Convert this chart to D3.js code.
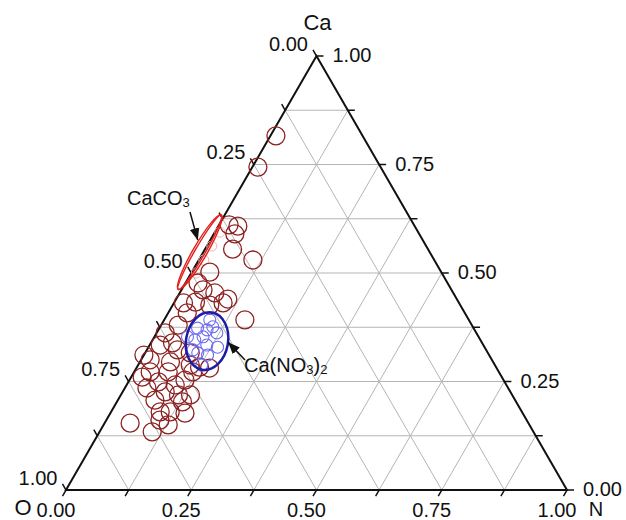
<!DOCTYPE html>
<html>
<head>
<meta charset="utf-8">
<script src="https://cdn.jsdelivr.net/npm/d3@7"></script>
<style>
  body { margin: 0; background: #fff; }
  text { font-family: "Liberation Sans", Arial, sans-serif; fill: #111; }
</style>
</head>
<body>
<div id="chart"></div>
<script>
// ternary data: N and Ca fractions, O = 1 - N - Ca
var sampleN  = [0.011, 0.011, 0.020, 0.039, 0.042, 0.055, 0.108, 0.036, 0.043, 0.070, 0.103, 0.042, 0.074, 0.098,
                0.161, 0.038, 0.034, 0.017, 0.043, 0.061, 0.090, 0.000, 0.061, 0.125, 0.032, 0.068, 0.022, 0.117,
                0.111, 0.097, 0.060, 0.044, 0.085, 0.139, 0.131, 0.098, 0.118, 0.149, 0.051, 0.105, 0.129, 0.074,
                0.021, 0.019, 0.025, 0.104, 0.146, 0.107, 0.115, 0.018];
var sampleCa = [0.816, 0.744, 0.611, 0.608, 0.590, 0.555, 0.530, 0.502, 0.461, 0.454, 0.440, 0.433, 0.426, 0.431,
                0.392, 0.408, 0.380, 0.362, 0.339, 0.323, 0.316, 0.311, 0.295, 0.283, 0.272, 0.272, 0.260, 0.272,
                0.253, 0.242, 0.249, 0.235, 0.226, 0.219, 0.203, 0.180, 0.180, 0.177, 0.154, 0.134, 0.150, 0.207,
                0.334, 0.431, 0.477, 0.288, 0.281, 0.161, 0.219, 0.300];

var nitrateN  = [0.076, 0.097, 0.097, 0.084, 0.120, 0.138, 0.114, 0.105, 0.127, 0.092, 0.105, 0.066, 0.127, 0.091];
var nitrateCa = [0.373, 0.369, 0.353, 0.346, 0.362, 0.329, 0.334, 0.316, 0.311, 0.323, 0.376, 0.353, 0.288, 0.392];

var carbonateN  = [0.010, 0.010, 0.010, 0.010];
var carbonateCa = [0.594, 0.562, 0.530, 0.500];

var tickValues = [0, 0.125, 0.25, 0.375, 0.5, 0.625, 0.75, 0.875, 1];
var labelValues = [0, 0.25, 0.5, 0.75, 1];

var width = 626, height = 520;

var svg = d3.select("#chart")
  .append("svg")
    .attr("width", width)
    .attr("height", height);

// x follows N + Ca/2, y follows Ca
var x = d3.scaleLinear().domain([0, 1]).range([66, 567]);
var y = d3.scaleLinear().domain([0, 1]).range([490, 56]);

function pt(n, ca) { return [x(n + ca / 2), y(ca)]; }
var fmt = d3.format(".2f");

// grid
var grid = svg.append("g").attr("stroke", "#b5b5b5").attr("stroke-width", 1);
tickValues.slice(1, -1).forEach(function(v) {
  var lines = [
    [pt(0, v), pt(1 - v, v)],      // constant Ca
    [pt(v, 0), pt(v, 1 - v)],      // constant N
    [pt(0, 1 - v), pt(1 - v, 0)]   // constant O
  ];
  lines.forEach(function(l) {
    grid.append("line")
      .attr("x1", l[0][0]).attr("y1", l[0][1])
      .attr("x2", l[1][0]).attr("y2", l[1][1]);
  });
});

// triangle
var A = pt(0, 0), B = pt(1, 0), C = pt(0, 1);
svg.append("path")
  .attr("d", "M" + A + "L" + B + "L" + C + "Z")
  .attr("fill", "none")
  .attr("stroke", "#111")
  .attr("stroke-width", 2);

var tl = 7, s3 = Math.sqrt(3) / 2;
var ticks = svg.append("g").attr("stroke", "#111").attr("stroke-width", 1.5);

// bottom axis (N)
tickValues.forEach(function(v) {
  var p = pt(v, 0);
  ticks.append("line").attr("x1", p[0]).attr("y1", p[1])
    .attr("x2", p[0] - tl * 0.5).attr("y2", p[1] + tl * s3);
});
labelValues.forEach(function(v) {
  var p = pt(v, 0);
  svg.append("text").attr("x", p[0] - 10).attr("y", p[1] + 27)
    .attr("text-anchor", "middle").attr("font-size", 20).text(fmt(v));
});

// right axis (Ca)
tickValues.forEach(function(v) {
  var p = pt(1 - v, v);
  ticks.append("line").attr("x1", p[0]).attr("y1", p[1])
    .attr("x2", p[0] + tl).attr("y2", p[1]);
});
labelValues.forEach(function(v) {
  var p = pt(1 - v, v);
  svg.append("text").attr("x", p[0] + 16).attr("y", p[1] + 6)
    .attr("font-size", 20).text(fmt(v));
});

// left axis (O)
tickValues.forEach(function(v) {
  var p = pt(0, 1 - v);
  ticks.append("line").attr("x1", p[0]).attr("y1", p[1])
    .attr("x2", p[0] - tl * 0.5).attr("y2", p[1] - tl * s3);
});
labelValues.forEach(function(v) {
  var p = pt(0, 1 - v);
  svg.append("text").attr("x", p[0] - tl * 0.5 - 5).attr("y", p[1] - tl * s3 + 1)
    .attr("text-anchor", "end").attr("font-size", 20).text(fmt(v));
});

// axis titles
svg.append("text").attr("x", C[0] + 1).attr("y", 30).attr("text-anchor", "middle")
  .attr("font-size", 22).text("Ca");
svg.append("text").attr("x", 23).attr("y", 515).attr("text-anchor", "middle")
  .attr("font-size", 22).text("O");
svg.append("text").attr("x", 596).attr("y", 516).attr("text-anchor", "middle")
  .attr("font-size", 20).text("N");

// faint carbonate points
svg.append("g").selectAll("circle")
  .data(carbonateN)
  .enter()
  .append("circle")
    .attr("cx", function(d, i) { return pt(d, carbonateCa[i])[0]; })
    .attr("cy", function(d, i) { return pt(d, carbonateCa[i])[1]; })
    .attr("r", 5)
    .attr("fill", "none")
    .attr("stroke", "#f2b8b8")
    .attr("stroke-width", 1);

// samples
svg.append("g").selectAll("circle")
  .data(sampleN)
  .enter()
  .append("circle")
    .attr("cx", function(d, i) { return pt(d, sampleCa[i])[0]; })
    .attr("cy", function(d, i) { return pt(d, sampleCa[i])[1]; })
    .attr("r", 9)
    .attr("fill", "none")
    .attr("stroke", "#8c2222")
    .attr("stroke-width", 1.3);

// nitrate points
svg.append("g").selectAll("circle")
  .data(nitrateN)
  .enter()
  .append("circle")
    .attr("cx", function(d, i) { return pt(d, nitrateCa[i])[0]; })
    .attr("cy", function(d, i) { return pt(d, nitrateCa[i])[1]; })
    .attr("r", 6)
    .attr("fill", "none")
    .attr("stroke", "#6e6cf0")
    .attr("stroke-width", 1.1);

// CaCO3 ellipse
var ec = pt(-0.007, 0.548);
[7, 5].forEach(function(ry) {
  svg.append("ellipse")
    .attr("transform", "translate(" + ec + ") rotate(-60)")
    .attr("rx", 43).attr("ry", ry)
    .attr("fill", "none").attr("stroke", "#e3201c").attr("stroke-width", 1.4);
});

// Ca(NO3)2 ellipse
var bc = pt(0.110, 0.343);
svg.append("ellipse")
  .attr("transform", "translate(" + bc + ") rotate(10)")
  .attr("rx", 21).attr("ry", 29)
  .attr("fill", "none").attr("stroke", "#1c1ca6").attr("stroke-width", 2.5);

// arrows
svg.append("defs").append("marker")
  .attr("id", "arr").attr("viewBox", "0 0 10 10").attr("refX", 10).attr("refY", 5)
  .attr("markerWidth", 8).attr("markerHeight", 8).attr("orient", "auto")
  .append("path").attr("d", "M0,1L10,5L0,9Z").attr("fill", "#111");

svg.append("line").attr("x1", 190).attr("y1", 212).attr("x2", ec[0] - 2).attr("y2", ec[1] - 12)
  .attr("stroke", "#111").attr("stroke-width", 1.5).attr("marker-end", "url(#arr)");
svg.append("line").attr("x1", 245).attr("y1", 360).attr("x2", bc[0] + 21).attr("y2", bc[1] + 1)
  .attr("stroke", "#111").attr("stroke-width", 1.5).attr("marker-end", "url(#arr)");

// labels
var t1 = svg.append("text").attr("x", 127).attr("y", 205).attr("font-size", 20);
t1.append("tspan").text("CaCO");
t1.append("tspan").attr("font-size", 13).attr("dy", 2).text("3");

var t2 = svg.append("text").attr("x", 244).attr("y", 372).attr("font-size", 20);
t2.append("tspan").text("Ca(NO");
t2.append("tspan").attr("font-size", 13).attr("dy", 2).text("3");
t2.append("tspan").attr("dy", -2).text(")");
t2.append("tspan").attr("font-size", 13).attr("dy", 2).text("2");
</script>
</body>
</html>
